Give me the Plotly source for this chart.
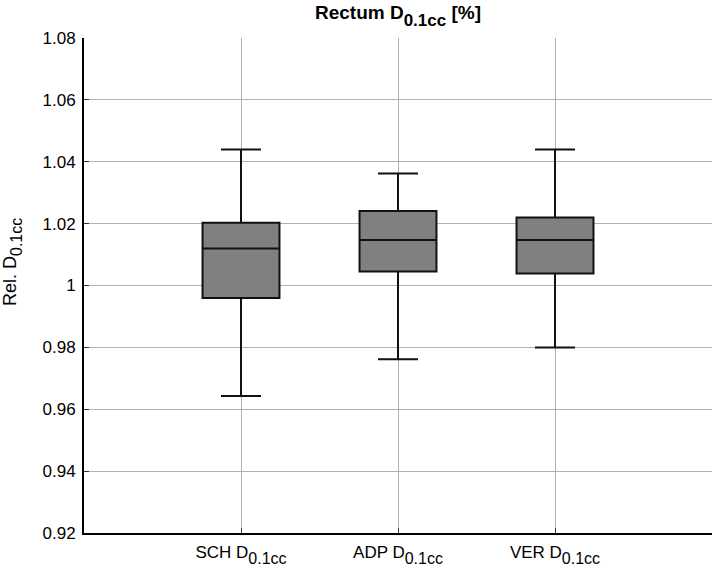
import plotly.graph_objects as go

def sub(main, s, size):
    return f"{main}<sub><sub><span style='font-size:{size}px'>{s}</span></sub></sub>"

categories = ["SCH D", "ADP D", "VER D"]
category_sub = "0.1cc"
lower_whisker = [0.9643, 0.9762, 0.9800]
q1_values = [0.9960, 1.0045, 1.0039]
median_values = [1.0120, 1.0147, 1.0147]
q3_values = [1.0203, 1.0241, 1.0220]
upper_whisker = [1.0440, 1.0362, 1.0440]

ytick_vals = [0.92, 0.94, 0.96, 0.98, 1.00, 1.02, 1.04, 1.06, 1.08]
ytick_text = ["0.92", "0.94", "0.96", "0.98", "1", "1.02", "1.04", "1.06", "1.08"]

FONT = "Liberation Sans, Arial, Helvetica, sans-serif"

x_labels = [sub(c, category_sub, 16) for c in categories]

fig = go.Figure()
fig.add_trace(go.Box(
    x=x_labels,
    q1=q1_values,
    median=median_values,
    q3=q3_values,
    lowerfence=lower_whisker,
    upperfence=upper_whisker,
    fillcolor="#808080",
    line=dict(color="#111111", width=2),
    width=0.49,
    whiskerwidth=0.52,
    boxpoints=False,
    showlegend=False,
    hoverinfo="skip",
))

fig.add_annotation(
    text=sub("Rel. D", "0.1cc", 16),
    xref="paper", yref="paper",
    x=-0.115, y=0.547,
    xanchor="center", yanchor="middle",
    textangle=-90, showarrow=False,
    font=dict(size=18, family=FONT, color="black"),
)

fig.update_layout(
    width=714, height=573,
    margin=dict(l=84, r=2, t=38, b=40),
    paper_bgcolor="white",
    plot_bgcolor="white",
    font=dict(family=FONT, color="black", size=16),
    title=dict(
        text="<b>" + sub("Rectum D", "0.1cc", 17) + " [%]</b>",
        x=0.5, xanchor="center", xref="paper",
        y=0.978, yanchor="middle",
        font=dict(size=19, family=FONT, color="black"),
    ),
    xaxis=dict(
        type="category",
        range=[-1, 3],
        showgrid=True, gridcolor="#b0b0b0", gridwidth=1,
        showline=True, linecolor="black", linewidth=2,
        ticks="inside", ticklen=5, tickcolor="#333333",
        tickfont=dict(size=17, family=FONT),
        ticklabelstandoff=3,
        zeroline=False,
        mirror=False,
    ),
    yaxis=dict(
        range=[0.92, 1.08],
        tickvals=ytick_vals, ticktext=ytick_text,
        showgrid=True, gridcolor="#b0b0b0", gridwidth=1,
        showline=True, linecolor="black", linewidth=2,
        ticks="inside", ticklen=5, tickcolor="#333333",
        tickfont=dict(size=17, family=FONT),
        ticklabelstandoff=3,
        zeroline=False,
    ),
)

fig.write_html("out.html")
